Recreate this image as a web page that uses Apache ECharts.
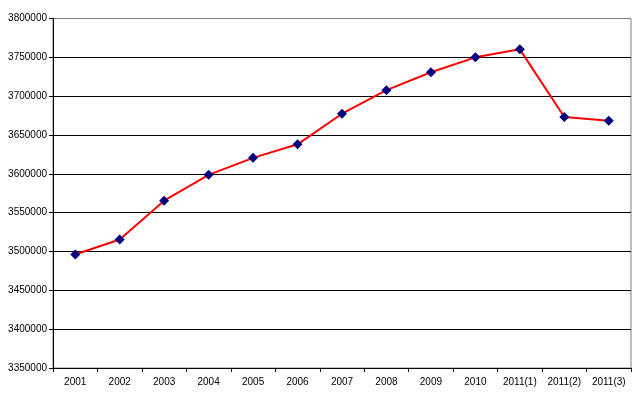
<!DOCTYPE html>
<html>
<head>
<meta charset="utf-8">
<script src="https://cdn.jsdelivr.net/npm/echarts@6/dist/echarts.min.js"></script>
<style>
  html, body { margin: 0; padding: 0; background: #fff; }
  #chart-container { width: 642px; height: 399px; }
</style>
</head>
<body>
<div id="chart-container"></div>
<script>
var categories = ['2001', '2002', '2003', '2004', '2005', '2006', '2007', '2008', '2009', '2010', '2011(1)', '2011(2)', '2011(3)'];
var values = [3496100, 3515500, 3565500, 3598700, 3620600, 3638000, 3677400, 3707700, 3730800, 3750000, 3760300, 3673100, 3668400];
var yMin = 3350000;
var yMax = 3800000;
var yStep = 50000;

var myChart = echarts.init(document.getElementById('chart-container'));

var option = {
  animation: false,
  backgroundColor: '#ffffff',
  grid: {
    left: 53,
    right: 11,
    top: 18.5,
    bottom: 31,
    show: true,
    borderColor: '#808080',
    borderWidth: 1
  },
  xAxis: {
    type: 'category',
    data: categories,
    boundaryGap: true,
    axisLine: { lineStyle: { color: '#000', width: 1 } },
    axisTick: { show: true, length: 4, lineStyle: { color: '#000' } },
    axisLabel: { color: '#000', fontFamily: 'Liberation Sans', fontSize: 10, margin: 9 },
    splitLine: { show: false }
  },
  yAxis: {
    type: 'value',
    min: yMin,
    max: yMax,
    interval: yStep,
    axisLine: { show: true, lineStyle: { color: '#000', width: 1 } },
    axisTick: { show: true, length: 4, lineStyle: { color: '#000' } },
    axisLabel: {
      color: '#000',
      fontFamily: 'Liberation Sans',
      fontSize: 10,
      margin: 6,
      formatter: function (v) { return String(v); }
    },
    splitLine: {
      show: true,
      lineStyle: {
        color: ['#000', '#000', '#000', '#000', '#000', '#000', '#000', '#000', '#000', '#808080'],
        width: 1
      }
    }
  },
  series: [
    {
      type: 'line',
      data: values,
      symbol: 'diamond',
      symbolSize: 10,
      itemStyle: { color: '#000080' },
      lineStyle: { color: '#ff0000', width: 2 }
    }
  ]
};

myChart.setOption(option);
</script>
</body>
</html>
